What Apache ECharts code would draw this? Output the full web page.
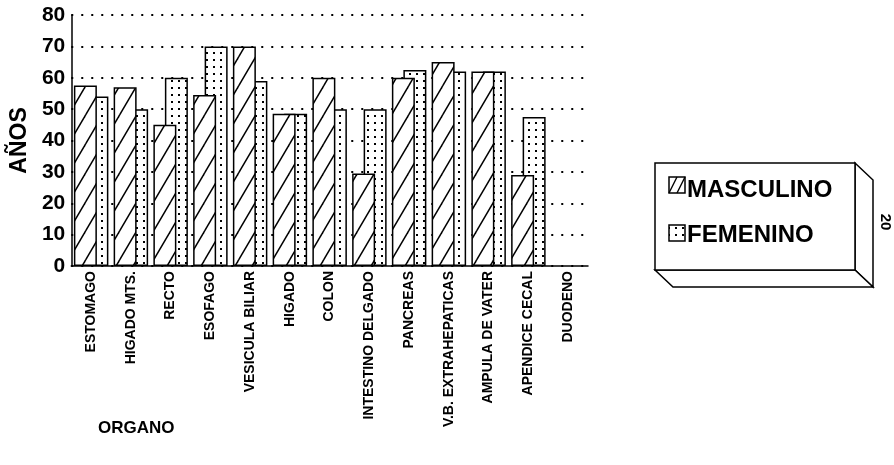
<!DOCTYPE html>
<html>
<head>
<meta charset="utf-8">
<script src="https://cdn.jsdelivr.net/npm/echarts@6/dist/echarts.min.js"></script>
<style>
  html, body { margin: 0; padding: 0; background: #fff; }
  #chart { width: 894px; height: 465px; }
</style>
</head>
<body>
<div id="chart"></div>
<script>
// Organs (x categories)
const organos = [
  'ESTOMAGO', 'HIGADO MTS.', 'RECTO', 'ESOFAGO', 'VESICULA BILIAR', 'HIGADO',
  'COLON', 'INTESTINO DELGADO', 'PANCREAS', 'V.B. EXTRAHEPATICAS',
  'AMPULA DE VATER', 'APENDICE CECAL', 'DUODENO'
];
// Mean age per organ, by sex
const masculino = [57.5, 57, 45, 54.5, 70, 48.5, 60, 29.5, 60, 65, 62, 29, null];
const femenino  = [54, 50, 60, 70, 59, 48.5, 50, 50, 62.5, 62, 62, 47.5, null];
// Value axis ticks
const yMin = 0, yMax = 80, yStep = 10;

const FONT = '"Liberation Sans", Arial, Helvetica, sans-serif';

// Diagonal hatch fill
function hatchPattern() {
  const W = 17, H = 29;
  const c = document.createElement('canvas');
  c.width = W; c.height = H;
  const g = c.getContext('2d');
  g.fillStyle = '#fff';
  g.fillRect(0, 0, W, H);
  g.strokeStyle = '#000';
  g.lineWidth = 1.5;
  [-W, 0, W].forEach(function (dx) {
    g.beginPath();
    g.moveTo(-W + dx, 2 * H);
    g.lineTo(2 * W + dx, -H);
    g.stroke();
  });
  return { image: c, repeat: 'repeat' };
}

// Dotted fill
function dotPattern() {
  const S = 7;
  const c = document.createElement('canvas');
  c.width = S; c.height = S;
  const g = c.getContext('2d');
  g.fillStyle = '#fff';
  g.fillRect(0, 0, S, S);
  g.fillStyle = '#000';
  g.fillRect(3, 3, 2, 2);
  return { image: c, repeat: 'repeat' };
}

const hatch = hatchPattern();
const dots = dotPattern();

const chart = echarts.init(document.getElementById('chart'), null, { renderer: 'canvas' });

// Legend box drawn as a small 3D block
const bx = 655, by = 163, bw = 200, bh = 107, dx = 18, dy = 17;
const boxStroke = { stroke: '#000', lineWidth: 1.5, fill: '#fff' };

chart.setOption({
  animation: false,
  backgroundColor: '#fff',
  grid: { left: 69, right: 306, top: 15, bottom: 199, containLabel: false },
  xAxis: {
    type: 'category',
    data: organos,
    axisLine: { show: true, lineStyle: { color: '#000', width: 1.5 } },
    axisTick: { show: false },
    axisLabel: {
      interval: 0, rotate: 90, margin: 5,
      color: '#000', fontFamily: FONT, fontWeight: 'bold', fontSize: 14
    },
    splitLine: { show: false }
  },
  yAxis: {
    type: 'value',
    min: yMin, max: yMax, interval: yStep,
    name: 'AÑOS',
    nameLocation: 'middle',
    nameRotate: 90,
    nameGap: 38,
    nameTextStyle: { color: '#000', fontFamily: FONT, fontWeight: 'bold', fontSize: 23 },
    axisLine: { show: true, lineStyle: { color: '#000', width: 1.5 } },
    axisTick: { show: false },
    axisLabel: { margin: 6, color: '#000', fontFamily: FONT, fontWeight: 'bold', fontSize: 21 },
    splitLine: { show: true, lineStyle: { color: '#000', width: 2, type: [2, 8] } }
  },
  series: [
    {
      name: 'MASCULINO',
      type: 'bar',
      data: masculino,
      barWidth: 23,
      barGap: '-50%',
      z: 4,
      itemStyle: { color: hatch, borderColor: '#000', borderWidth: 1.5 }
    },
    {
      name: 'FEMENINO',
      type: 'bar',
      data: femenino,
      barWidth: 23,
      z: 3,
      itemStyle: { color: dots, borderColor: '#000', borderWidth: 1.5 }
    }
  ],
  graphic: [
    {
      type: 'text', left: 98, top: 420,
      style: { text: 'ORGANO', font: 'bold 17px ' + FONT, fill: '#000' }
    },
    // block faces
    {
      type: 'polygon',
      shape: { points: [[bx + bw, by], [bx + bw + dx, by + dy], [bx + bw + dx, by + bh + dy], [bx + bw, by + bh]] },
      style: boxStroke
    },
    {
      type: 'polygon',
      shape: { points: [[bx, by + bh], [bx + bw, by + bh], [bx + bw + dx, by + bh + dy], [bx + dx, by + bh + dy]] },
      style: boxStroke
    },
    {
      type: 'rect',
      shape: { x: bx, y: by, width: bw, height: bh },
      style: boxStroke
    },
    // MASCULINO key
    {
      type: 'rect', shape: { x: 669, y: 177, width: 16, height: 16 },
      style: { fill: '#fff', stroke: '#000', lineWidth: 1.5 }
    },
    { type: 'line', shape: { x1: 669, y1: 193, x2: 677, y2: 177 }, style: { stroke: '#000', lineWidth: 1.4 } },
    { type: 'line', shape: { x1: 677, y1: 193, x2: 685, y2: 177 }, style: { stroke: '#000', lineWidth: 1.4 } },
    {
      type: 'text', x: 687, y: 190,
      style: { text: 'MASCULINO', font: 'bold 24px ' + FONT, fill: '#000', verticalAlign: 'middle' }
    },
    // FEMENINO key
    {
      type: 'rect', shape: { x: 669, y: 225, width: 16, height: 16 },
      style: { fill: dots, stroke: '#000', lineWidth: 1.5 }
    },
    {
      type: 'text', x: 687, y: 235,
      style: { text: 'FEMENINO', font: 'bold 24px ' + FONT, fill: '#000', verticalAlign: 'middle' }
    },
    // page number
    {
      type: 'text', x: 885, y: 222, rotation: -Math.PI / 2,
      style: { text: '20', font: 'bold 15px ' + FONT, fill: '#000', align: 'center', verticalAlign: 'middle' }
    }
  ]
});
</script>
</body>
</html>
